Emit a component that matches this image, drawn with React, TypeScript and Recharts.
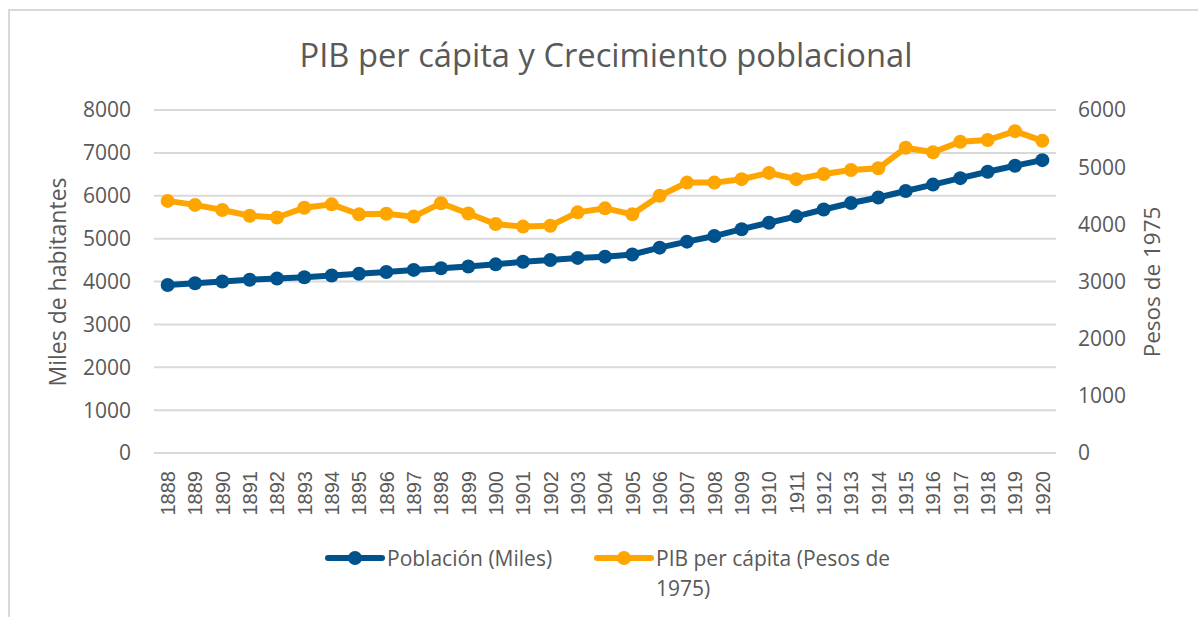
import { CartesianGrid, Line, LineChart, XAxis, YAxis } from 'recharts'

const YEARS = [
  '1888', '1889', '1890', '1891', '1892', '1893', '1894', '1895', '1896', '1897', '1898',
  '1899', '1900', '1901', '1902', '1903', '1904', '1905', '1906', '1907', '1908', '1909',
  '1910', '1911', '1912', '1913', '1914', '1915', '1916', '1917', '1918', '1919', '1920',
]

const POBLACION = [
  3920, 3960, 4000, 4040, 4070, 4100, 4140, 4180, 4220, 4270, 4310, 4350, 4400, 4460, 4500,
  4550, 4580, 4630, 4790, 4930, 5060, 5220, 5370, 5520, 5680, 5830, 5960, 6110, 6260, 6410,
  6560, 6700, 6830,
]

const PIB = [
  4410, 4340, 4250, 4150, 4120, 4290, 4350, 4175, 4185, 4135, 4370, 4190, 4005, 3960, 3975,
  4210, 4280, 4175, 4500, 4730, 4730, 4790, 4900, 4790, 4880, 4950, 4980, 5340, 5260, 5445,
  5475, 5630, 5460,
]

const LEFT_TICKS = [0, 1000, 2000, 3000, 4000, 5000, 6000, 7000, 8000]
const RIGHT_TICKS = [0, 1000, 2000, 3000, 4000, 5000, 6000]

const BLUE = '#00528c'
const ORANGE = '#ffa500'
const TEXT = '#595959'
const FONT = '"Open Sans", sans-serif'

const data = YEARS.map((year, i) => ({ year, poblacion: POBLACION[i], pib: PIB[i] }))

function YearTick({ x, y, payload }: any) {
  return (
    <text
      x={0}
      y={0}
      dy="0.36em"
      transform={`translate(${x},${y}) rotate(-90)`}
      textAnchor="end"
      fontFamily='"Liberation Sans", Arial, sans-serif'
      fontSize={20}
      fill={TEXT}
    >
      {payload.value}
    </text>
  )
}

function LegendItem({ color, children }: { color: string; children: React.ReactNode }) {
  return (
    <div style={{ display: 'flex', alignItems: 'flex-start' }}>
      <svg width={62} height={30} style={{ flex: 'none' }}>
        <line x1={3} y1={15} x2={57} y2={15} stroke={color} strokeWidth={6} strokeLinecap="round" />
        <circle cx={30} cy={15} r={7} fill={color} />
      </svg>
      <div style={{ lineHeight: '30px' }}>{children}</div>
    </div>
  )
}

export default function App() {
  return (
    <div style={{ position: 'absolute', left: 0, top: 0, width: 1198, height: 617, overflow: 'hidden', background: '#fff' }}>
      <div
        style={{
          position: 'absolute',
          left: 8,
          top: 9,
          width: 1220,
          height: 640,
          border: '2px solid #d9d9d9',
        }}
      />
      <LineChart width={1198} height={617} data={data} margin={{ top: 110, right: 0, bottom: 100, left: 0 }}>
        <CartesianGrid yAxisId="left" vertical={false} stroke="#d9d9d9" strokeWidth={2} />
        <XAxis
          dataKey="year"
          interval={0}
          axisLine={false}
          tickLine={false}
          tickSize={0}
          tickMargin={18}
          height={64}
          padding={{ left: 13.67, right: 13.67 }}
          tick={<YearTick />}
        />
        <YAxis
          yAxisId="left"
          orientation="left"
          width={154}
          domain={[0, 8000]}
          ticks={LEFT_TICKS}
          axisLine={false}
          tickLine={false}
          tickSize={0}
          tickMargin={23}
          tick={{ fill: TEXT, fontSize: 21, fontFamily: FONT }}
        />
        <YAxis
          yAxisId="right"
          orientation="right"
          width={142}
          domain={[0, 6000]}
          ticks={RIGHT_TICKS}
          axisLine={false}
          tickLine={false}
          tickSize={0}
          tickMargin={22}
          tick={{ fill: TEXT, fontSize: 21, fontFamily: FONT, textAnchor: 'start' }}
        />
        <Line
          yAxisId="left"
          dataKey="poblacion"
          stroke={BLUE}
          strokeWidth={6}
          dot={{ r: 7, fill: BLUE, stroke: BLUE, strokeWidth: 0 }}
          isAnimationActive={false}
        />
        <Line
          yAxisId="right"
          dataKey="pib"
          stroke={ORANGE}
          strokeWidth={6}
          dot={{ r: 7, fill: ORANGE, stroke: ORANGE, strokeWidth: 0 }}
          isAnimationActive={false}
        />
      </LineChart>
      <svg width={1198} height={617} style={{ position: 'absolute', left: 0, top: 0, pointerEvents: 'none' }}>
        <text x={606} y={67} textAnchor="middle" fontFamily={FONT} fontSize={32.7} fill={TEXT}>
          PIB per cápita y Crecimiento poblacional
        </text>
        <text
          x={0}
          y={0}
          dy={7.5}
          transform="translate(58,282) rotate(-90)"
          textAnchor="middle"
          fontFamily={FONT}
          fontSize={23}
          fill={TEXT}
        >
          Miles de habitantes
        </text>
        <text
          x={0}
          y={0}
          dy={8}
          transform="translate(1152,282) rotate(-90)"
          textAnchor="middle"
          fontFamily={FONT}
          fontSize={22.5}
          fill={TEXT}
        >
          Pesos de 1975
        </text>
      </svg>
      <div style={{ position: 'absolute', left: 325, top: 543, fontFamily: FONT, fontSize: 21, color: TEXT }}>
        <LegendItem color={BLUE}>Población (Miles)</LegendItem>
      </div>
      <div style={{ position: 'absolute', left: 594, top: 543, width: 310, fontFamily: FONT, fontSize: 21, color: TEXT }}>
        <LegendItem color={ORANGE}>PIB per cápita (Pesos de 1975)</LegendItem>
      </div>
    </div>
  )
}
